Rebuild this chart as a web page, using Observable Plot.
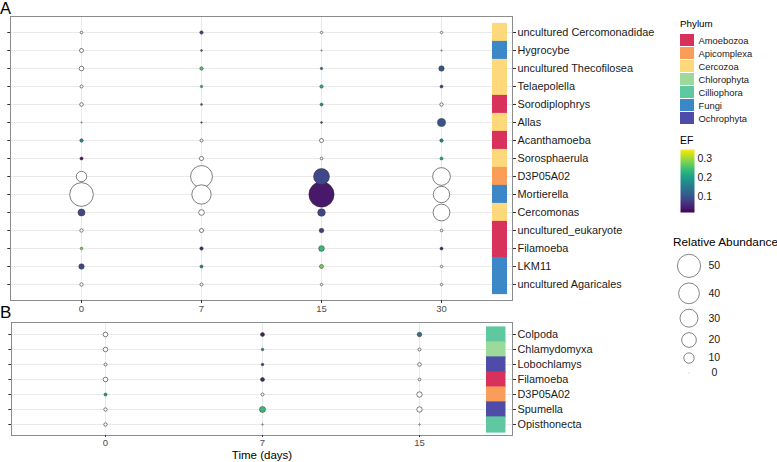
<!DOCTYPE html>
<html><head><meta charset="utf-8">
<script src="https://cdn.jsdelivr.net/npm/d3@7"></script>
<script src="https://cdn.jsdelivr.net/npm/@observablehq/plot@0.6"></script>
<style>
html,body{margin:0;padding:0;background:#fff;}
#chart{position:relative;width:777px;height:462px;font-family:"Liberation Sans",Arial,Helvetica,sans-serif;overflow:hidden;background:#fff;}
#chart svg{position:absolute;}
.lbl{position:absolute;white-space:nowrap;line-height:1;color:#000;}
</style></head><body><div id="chart"></div>
<script>
// ---------- data ----------
const phyla = ["Amoebozoa","Apicomplexa","Cercozoa","Chlorophyta","Cilliophora","Fungi","Ochrophyta"];
const phylaColors = ["#D8315B","#F99D59","#FDD97C","#9DD99A","#5EC9A0","#3B87C7","#4E4CA8"];

const daysA = ["0","7","15","30"];
const taxaA = ["uncultured Cercomonadidae","Hygrocybe","uncultured Thecofilosea","Telaepolella","Sorodiplophrys","Allas","Acanthamoeba","Sorosphaerula","D3P05A02","Mortierella","Cercomonas","uncultured_eukaryote","Filamoeba","LKM11","uncultured Agaricales"];
const phylumA = ["Cercozoa","Fungi","Cercozoa","Cercozoa","Amoebozoa","Cercozoa","Amoebozoa","Cercozoa","Apicomplexa","Fungi","Cercozoa","Amoebozoa","Amoebozoa","Fungi","Fungi"];
// relative abundance, one row per taxon, columns = days 0, 7, 15, 30
const abundanceA = [
  [0.63, 1.07, 0.54, 0.54],
  [1.49, 0.37, 0.09, 0.13],
  [1.97, 1.07, 0.54, 2.71],
  [0.84, 0.54, 1.07, 0.84],
  [1.20, 0.37, 0.84, 1.07],
  [0.09, 0.24, 0.37, 6.0],
  [1.07, 0.84, 1.49, 1.07],
  [0.95, 1.64, 0.63, 0.84],
  [10.1, 44.6, 23.7, 29.2],
  [52.1, 34.7, 59.3, 24.8],
  [4.6, 3.0, 5.4, 26.1],
  [1.07, 1.49, 1.97, 0.63],
  [0.63, 1.07, 3.0, 0.84],
  [2.71, 0.84, 1.49, 0.54],
  [1.07, 0.84, 0.54, 0.54]
];
// EF (null = not significant, drawn white)
const efA = [
  [null, 0.08, null, null],
  [null, 0.14, null, null],
  [null, 0.26, 0.13, 0.10],
  [null, 0.24, 0.23, 0.08],
  [null, 0.13, 0.19, null],
  [null, 0.06, 0.10, 0.10],
  [0.18, null, null, 0.17],
  [0.03, null, null, 0.22],
  [null, null, 0.085, null],
  [null, null, 0.035, null],
  [0.085, null, 0.085, null],
  [null, null, 0.07, null],
  [0.29, 0.05, 0.24, 0.05],
  [0.085, 0.16, 0.28, null],
  [null, null, null, null]
];

const daysB = ["0","7","15"];
const taxaB = ["Colpoda","Chlamydomyxa","Lobochlamys","Filamoeba","D3P05A02","Spumella","Opisthonecta"];
const phylumB = ["Cilliophora","Chlorophyta","Ochrophyta","Amoebozoa","Apicomplexa","Ochrophyta","Cilliophora"];
const abundanceB = [
  [1.97, 1.49, 1.97],
  [1.97, 0.63, 0.84],
  [0.84, 0.63, 1.20],
  [1.97, 1.49, 0.63],
  [0.84, 0.84, 2.71],
  [1.07, 3.30, 2.71],
  [1.07, 0.18, 0.18]
];
const efB = [
  [null, 0.04, 0.14],
  [null, 0.16, null],
  [null, 0.06, null],
  [null, 0.05, null],
  [0.20, null, null],
  [null, 0.24, null],
  [null, null, null]
];

const efDomain = [0.014, 0.348];
const efTicks = [0.1, 0.2, 0.3];
const sizeBreaks = [50, 40, 30, 20, 10, 0];

// ---------- helpers ----------
const FONT = "'Liberation Sans', Arial, Helvetica, sans-serif";
const chart = document.getElementById("chart");
function place(el, left, top) {
  el.style.position = "absolute";
  el.style.left = left + "px";
  el.style.top = top + "px";
  el.style.background = "transparent";
  el.style.overflow = "visible";
  chart.appendChild(el);
  return el;
}
function label(text, left, top, size) {
  const d = document.createElement("div");
  d.className = "lbl";
  d.textContent = text;
  d.style.left = left + "px";
  d.style.top = top + "px";
  d.style.fontSize = size + "px";
  chart.appendChild(d);
}
const rScale = {type: "sqrt", domain: [0, 50], range: [0, 11.6]};
const colorEF = {type: "linear", scheme: "viridis", domain: efDomain};
const colorPhylum = {type: "ordinal", domain: phyla, range: phylaColors};
const PAD = 0.59;

function cells(taxa, days, ab, ef) {
  return taxa.flatMap((t, i) => days.map((d, j) => ({taxon: t, day: d, abund: ab[i][j], ef: ef[i][j]})));
}

function bubblePanel(taxa, days, ab, ef, opts) {
  const data = cells(taxa, days, ab, ef);
  return Plot.plot({
    width: 777, height: opts.height,
    marginLeft: opts.marginLeft, marginRight: 265, marginTop: opts.marginTop, marginBottom: opts.marginBottom,
    style: {background: "transparent", fontFamily: FONT, overflow: "visible"},
    x: {type: "point", domain: days, padding: PAD},
    y: {type: "point", domain: taxa, padding: PAD},
    r: rScale,
    color: colorEF,
    marks: [
      Plot.gridX({stroke: "#e8e8e8", strokeOpacity: 1, strokeWidth: 0.9}),
      Plot.gridY({stroke: "#e8e8e8", strokeOpacity: 1, strokeWidth: 0.9}),
      Plot.dot(data.filter(d => d.ef == null), {x: "day", y: "taxon", r: "abund", fill: "white", stroke: "#3a3a3a", strokeWidth: 0.65}),
      Plot.dot(data.filter(d => d.ef != null), {x: "day", y: "taxon", r: "abund", fill: "ef", stroke: "#333", strokeWidth: 0.5}),
      Plot.frame({stroke: "#808080", strokeWidth: 0.9}),
      Plot.axisY({anchor: "left", tickSize: 2.7, tickFormat: () => "", stroke: "#333", label: null}),
      Plot.axisY({anchor: "right", tickSize: 3, tickPadding: 2, fontSize: 10.9, fill: "#1a1a1a", stroke: "#333", label: null}),
      Plot.axisX({anchor: "bottom", tickSize: opts.xTick, tickPadding: opts.xPad, fontSize: 9.5, fill: "#4d4d4d", stroke: "#333", label: null}),
      ...(opts.extra || [])
    ]
  });
}

function stripPanel(taxa, phylum, opts) {
  const inner = opts.height - opts.marginTop - opts.marginBottom;
  const step = inner / (taxa.length - 1 + 2 * PAD);
  return Plot.plot({
    width: opts.width, height: opts.height,
    marginLeft: 0, marginRight: 0, marginTop: opts.marginTop, marginBottom: opts.marginBottom,
    style: {background: "transparent", overflow: "visible"},
    y: {type: "point", domain: taxa, padding: PAD, axis: null},
    color: colorPhylum,
    marks: [
      Plot.ruleY(taxa, {y: d => d, stroke: (d, i) => phylum[i], strokeWidth: step + 0.5})
    ]
  });
}

// ---------- panel A ----------
place(bubblePanel(taxaA, daysA, abundanceA, efA, {height: 312, marginLeft: 10, marginTop: 16, marginBottom: 12, xTick: 3, xPad: 2}), 0, 0);
place(stripPanel(taxaA, phylumA, {width: 15, height: 312, marginTop: 16, marginBottom: 12}), 492, 0);

// ---------- panel B ----------
place(bubblePanel(taxaB, daysB, abundanceB, efB, {
  height: 152, marginLeft: 11, marginTop: 12, marginBottom: 27, xTick: 2, xPad: 1.5,
  extra: [Plot.text(["Time (days)"], {frameAnchor: "bottom", dy: 23, fontSize: 11.5, fill: "#000"})]
}), 0, 310);
place(stripPanel(taxaB, phylumB, {width: 19.5, height: 152, marginTop: 12, marginBottom: 27}), 486, 310);

label("A", 0, 0, 16.5);
label("B", 0, 304, 17);

// ---------- legends ----------
label("Phylum", 680, 19, 9.8);
place(Plot.plot({
  width: 97, height: 92.5, marginLeft: 0, marginRight: 83, marginTop: 0, marginBottom: 0,
  style: {background: "transparent", fontFamily: FONT, overflow: "visible"},
  x: {type: "band", domain: ["key"], padding: 0, axis: null},
  y: {type: "band", domain: phyla, padding: 0.04, axis: null},
  color: colorPhylum,
  marks: [
    Plot.cell(phyla, {x: () => "key", y: d => d, fill: d => d}),
    Plot.text(phyla, {x: () => "key", y: d => d, text: d => d, dx: 11, textAnchor: "start", fontSize: 9.4, fill: "#1a1a1a"})
  ]
}), 680, 33);

label("EF", 680, 134.6, 10.5);
place(Plot.plot({
  width: 40, height: 63, marginLeft: 0, marginRight: 26, marginTop: 0, marginBottom: 0,
  style: {background: "transparent", fontFamily: FONT, overflow: "visible"},
  x: {domain: [0, 1], axis: null},
  y: {domain: efDomain, axis: null},
  color: colorEF,
  marks: [
    Plot.raster({x1: 0, x2: 1, y1: efDomain[0], y2: efDomain[1], width: 1, height: 80, fill: (x, y) => y, imageRendering: "auto"}),
    Plot.axisY({anchor: "right", ticks: efTicks, tickFormat: d3.format(".1f"), tickSize: 0, tickPadding: 3, fontSize: 10.5, fill: "#1a1a1a", label: null})
  ]
}), 680, 149);

label("Relative Abundance", 673, 236.5, 11.8);
const rFn = d3.scaleSqrt().domain(rScale.domain).range(rScale.range);
const keyH = sizeBreaks.map(v => Math.max(2 * rFn(v) + 5.5, 14));
const keyY = [];
keyH.forEach((h, i) => keyY.push(i === 0 ? h / 2 : keyY[i - 1] + (keyH[i - 1] + h) / 2));
place(Plot.plot({
  width: 60, height: 140, marginLeft: 0, marginRight: 27, marginTop: 0, marginBottom: 0,
  style: {background: "transparent", fontFamily: FONT, overflow: "visible"},
  x: {type: "band", domain: ["key"], padding: 0, axis: null},
  y: {type: "identity", axis: null},
  r: rScale,
  marks: [
    Plot.dot(sizeBreaks.filter(v => v > 0), {x: () => "key", y: v => keyY[sizeBreaks.indexOf(v)], r: v => v, fill: "white", stroke: "#333", strokeWidth: 0.6}),
    Plot.dot(sizeBreaks.filter(v => v === 0), {x: () => "key", y: v => keyY[sizeBreaks.indexOf(v)], r: 0.4, fill: "#555", stroke: "none"}),
    Plot.text(sizeBreaks, {x: () => "key", y: v => keyY[sizeBreaks.indexOf(v)], text: v => String(v), dx: 25.3, textAnchor: "middle", fontSize: 10.5, fill: "#1a1a1a"})
  ]
}), 672.2, 265.3 - keyY[0]);
</script></body></html>
